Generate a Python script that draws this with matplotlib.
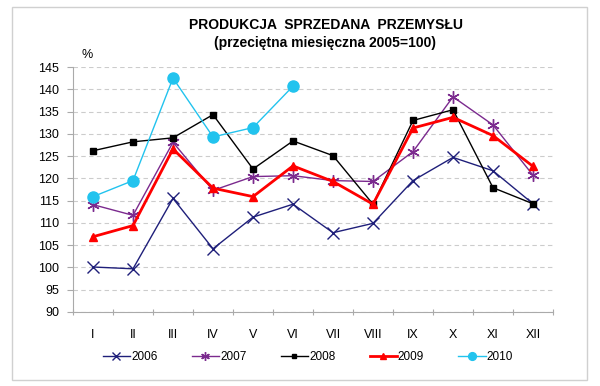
import matplotlib
matplotlib.use("Agg")
import matplotlib.pyplot as plt
from matplotlib.patches import Rectangle

# dane z wykresu
months = ["I", "II", "III", "IV", "V", "VI", "VII", "VIII", "IX", "X", "XI", "XII"]
y2006 = [100.1, 99.7, 115.5, 104.2, 111.3, 114.2, 107.8, 109.9, 119.5, 124.7, 121.7, 114.3]
y2007 = [114.1, 111.7, 128.1, 117.3, 120.4, 120.6, 119.5, 119.3, 126.0, 138.3, 132.0, 120.7]
y2008 = [126.2, 128.2, 129.1, 134.3, 122.1, 128.4, 125.1, 114.2, 133.0, 135.4, 117.9, 114.3]
y2009 = [106.9, 109.4, 126.6, 117.8, 115.9, 122.8, 119.3, 114.2, 131.3, 133.7, 129.6, 122.7]
y2010 = [115.9, 119.5, 142.5, 129.3, 131.4, 140.7]

plt.rcParams['font.family'] = ['Liberation Sans', 'DejaVu Sans']

fig = plt.figure(figsize=(6.0, 3.86), dpi=100)
# ramka wokol wykresu
fig.patches.append(Rectangle((12 / 600, 1 - 380 / 386), 575 / 600, 373 / 386,
                             transform=fig.transFigure, fill=False,
                             edgecolor="#d0d0d0", linewidth=1.0))

ax = fig.add_axes([73 / 600, 1 - 312 / 386, 480 / 600, 245 / 386])
x = list(range(len(months)))

ax.plot(x, y2006, color="#1f1f7a", lw=1.0, marker="x", ms=8, mew=1.0, label="2006")
ax.plot(x, y2007, color="#7b2a8e", lw=1.0, marker=(6, 2, 0), ms=9, mew=1.0, label="2007")
ax.plot(x, y2008, color="black", lw=1.0, marker="s", ms=5, label="2008")
ax.plot(x, y2009, color="#ff0000", lw=2.0, marker="^", ms=6, label="2009")
ax.plot(x[:len(y2010)], y2010, color="#22c3ee", lw=1.0, marker="o", ms=8, label="2010")

ax.set_ylim(90, 145)
ax.set_xlim(-0.5, 11.5)
ax.set_yticks(range(90, 146, 5))
ax.yaxis.grid(True, linestyle=(0, (4, 3)), color="#cccccc", linewidth=0.8)
ax.set_axisbelow(True)

# etykiety miesiecy w srodku, kreski na granicach
ax.set_xticks([i - 0.5 for i in range(13)])
ax.set_xticklabels([])
ax.set_xticks(x, minor=True)
ax.set_xticklabels(months, minor=True)
ax.tick_params(axis="x", which="minor", length=0, pad=12, labelsize=9)
ax.tick_params(axis="x", which="major", length=4, direction="inout", color="#aaaaaa")
ax.tick_params(axis="y", length=4, direction="out", color="#aaaaaa", labelsize=9, pad=6)

for s in ["top", "right"]:
    ax.spines[s].set_visible(False)
for s in ["left", "bottom"]:
    ax.spines[s].set_color("#aaaaaa")

fig.text(326 / 600, 1 - 25 / 386, "PRODUKCJA  SPRZEDANA  PRZEMYSŁU", ha="center", va="center",
         fontsize=10, fontweight="bold")
fig.text(325 / 600, 1 - 43 / 386, "(przeciętna miesięczna 2005=100)", ha="center", va="center",
         fontsize=10, fontweight="bold")
fig.text(87 / 600, 1 - 55 / 386, "%", ha="center", va="center", fontsize=9)

fig.legend(loc="center", bbox_to_anchor=(308 / 600, 1 - 357 / 386), ncol=5, frameon=False,
           fontsize=8.5, handlelength=2.3, handletextpad=0.1, columnspacing=2.9,
           markerscale=0.7)

fig.savefig("out.png", dpi=100)
